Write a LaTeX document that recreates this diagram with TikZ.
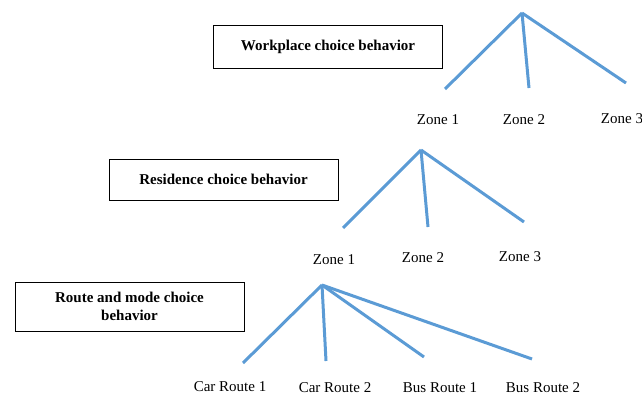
\documentclass[tikz,border=0pt]{standalone}
\usepackage{fontspec}
\setmainfont{Liberation Serif}
\definecolor{branchblue}{RGB}{91,155,213}
\begin{document}
\begin{tikzpicture}[x=1pt,y=-1pt,
  levelbox/.style={draw=black,line width=0.9pt,minimum width=229pt,align=center,font=\fontsize{15}{18}\selectfont\bfseries,inner sep=0pt},
  choice/.style={font=\fontsize{15}{18}\selectfont,inner sep=0pt},
  branch/.style={draw=branchblue,line width=3pt}]
\useasboundingbox (0,0) rectangle (642,396);
% Level 1
\node[levelbox,minimum height=43pt] (wbox) at (328,46.5) {Workplace choice behavior};
\coordinate (wa) at (522,13);
\coordinate (we1) at (445,89);
\coordinate (we2) at (529,88);
\coordinate (we3) at (626,83);
\draw[branch] (wa) -- (we1);
\draw[branch] (wa) -- (we2);
\draw[branch] (wa) -- (we3);
\node[choice] (wz1) at (438,120) {Zone 1};
\node[choice] (wz2) at (524,120) {Zone 2};
\node[choice] (wz3) at (622,119) {Zone 3};
% Level 2
\node[levelbox,minimum height=41pt] (rbox) at (223.5,179.5) {Residence choice behavior};
\coordinate (ra) at (421,150);
\coordinate (re1) at (343,228);
\coordinate (re2) at (428,227);
\coordinate (re3) at (524,222);
\draw[branch] (ra) -- (re1);
\draw[branch] (ra) -- (re2);
\draw[branch] (ra) -- (re3);
\node[choice] (rz1) at (334,260) {Zone 1};
\node[choice] (rz2) at (423,258) {Zone 2};
\node[choice] (rz3) at (520,257) {Zone 3};
% Level 3
\node[levelbox,minimum height=49pt] (mbox) at (129.5,306.5) {Route and mode choice\\behavior};
\coordinate (ma) at (322,285);
\coordinate (me1) at (243,363);
\coordinate (me2) at (326,361);
\coordinate (me3) at (424,357);
\coordinate (me4) at (532,359);
\draw[branch] (ma) -- (me1);
\draw[branch] (ma) -- (me2);
\draw[branch] (ma) -- (me3);
\draw[branch] (ma) -- (me4);
\node[choice] (mc1) at (230,387) {Car Route 1};
\node[choice] (mc2) at (335,388) {Car Route 2};
\node[choice] (mb1) at (440,388) {Bus Route 1};
\node[choice] (mb2) at (543,388) {Bus Route 2};
\end{tikzpicture}
\end{document}
